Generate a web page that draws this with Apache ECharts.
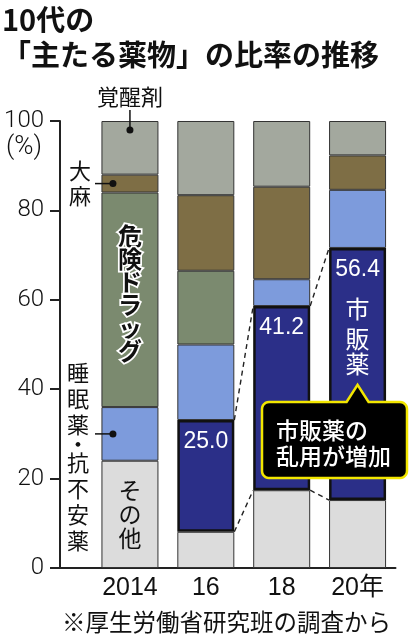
<!DOCTYPE html>
<html><head><meta charset="utf-8">
<script src="https://cdn.jsdelivr.net/npm/echarts@6/dist/echarts.min.js"></script>
<style>html,body{margin:0;padding:0;background:#fff;}#c{width:409px;height:640px;}</style>
</head><body><div id="c"></div>
<script>
const years = ['2014', '16', '18', '20年'];
const otherVals = [24, 8.1, 17.4, 15.2];
const otcVals = [null, 25.0, 41.2, 56.4];
const sleepVals = [12, 16.9, 6.0, 13.0];
const dangerVals = [48, 16.5, null, null];
const cannabisVals = [4, 16.9, 20.7, 7.7];
const stimVals = [12, 16.6, 14.7, 7.7];
const seriesNames = ['その他', '市販薬', '睡眠薬・抗不安薬', '危険ドラッグ', '大麻', '覚醒剤'];
const titleLines = ['10代の', '「主たる薬物」の比率の推移'];
const calloutLines = ['市販薬の', '乱用が増加'];
const sourceNote = '※厚生労働省研究班の調査から';
const yTicks = [0, 20, 40, 60, 80, 100];

const FONT = '"Noto Sans CJK JP", "Noto Sans", sans-serif';
const colors = {
  other: '#dcdcdc', otc: '#2b2f88', sleep: '#7d9bdc',
  danger: '#7b8a6f', cannabis: '#7e6e45', stim: '#a3a89e'
};
const chart = echarts.init(document.getElementById('c'), null, {renderer: 'canvas'});

function seg(name, vals, color, opts) {
  return Object.assign({
    name: name, type: 'bar', stack: 'all', barWidth: 57,
    data: vals.map(v => v),
    itemStyle: {color: color, borderColor: '#333', borderWidth: 1},
    emphasis: {disabled: true}, animation: false
  }, opts || {});
}

const otcData = otcVals.map((v, i) => {
  if (v == null) return null;
  const last = i === otcVals.length - 1;
  return {
    value: v,
    label: {
      show: true, position: 'insideTop', distance: 0,
      formatter: last ? '{n|' + v.toFixed(1) + '}\n{t1|市}\n{t|販}\n{t|薬}' : '{n|' + v.toFixed(1) + '}',
      rich: {
        n: {fontSize: 23, lineHeight: 44, color: '#fff', fontFamily: 'Liberation Sans, sans-serif', align: 'center'},
        t1: {fontSize: 24, lineHeight: 34, color: '#fff', fontFamily: FONT, align: 'center'},
        t: {fontSize: 24, lineHeight: 25, color: '#fff', fontFamily: FONT, align: 'center'}
      }
    }
  };
});

const dangerData = dangerVals.map((v, i) => i === 0 ? {
  value: v,
  label: {
    show: true, position: 'inside', offset: [0, -6],
    formatter: seriesNames[3].split('').join('\n'),
    fontFamily: FONT, fontSize: 24, fontWeight: 'bold', lineHeight: 23,
    color: '#111', textBorderColor: '#fff', textBorderWidth: 3.5
  }
} : v);

const otherData = otherVals.map((v, i) => i === 0 ? {
  value: v,
  label: {
    show: true, position: 'inside',
    formatter: seriesNames[0].split('').join('\n'),
    fontFamily: FONT, fontSize: 23, lineHeight: 24, color: '#111'
  }
} : v);

const option = {
  animation: false,
  grid: {left: 92, right: 13.5, top: 121, bottom: 72},
  xAxis: {
    type: 'category', data: years,
    axisLine: {lineStyle: {color: '#222', width: 2}},
    axisTick: {show: false},
    axisLabel: {color: '#111', fontSize: 25, margin: 8, fontFamily: 'Liberation Sans, ' + FONT}
  },
  yAxis: {
    type: 'value', min: 0, max: 100, interval: 20, offset: 32,
    axisLine: {show: true, lineStyle: {color: '#222', width: 2}},
    axisTick: {show: true, length: 10, lineStyle: {color: '#222', width: 2}},
    splitLine: {show: false},
    axisLabel: {color: '#111', fontSize: 24, margin: 16, fontFamily: 'Roboto, sans-serif', fontWeight: 300,
      formatter: v => yTicks.indexOf(v) >= 0 ? String(v) : ''}
  },
  series: [
    seg(seriesNames[0], otherVals, colors.other, {data: otherData}),
    seg(seriesNames[1], otcVals, colors.otc, {data: otcData, z: 3,
      itemStyle: {color: colors.otc, borderColor: '#111', borderWidth: 2.5}}),
    seg(seriesNames[2], sleepVals, colors.sleep),
    seg(seriesNames[3], dangerVals, colors.danger, {data: dangerData}),
    seg(seriesNames[4], cannabisVals, colors.cannabis),
    seg(seriesNames[5], stimVals, colors.stim)
  ]
};
chart.setOption(option);

// ---- annotations computed from scales ----
const P = (i, v) => chart.convertToPixel({gridIndex: 0}, [i, v]);
const half = 57 / 2;
const g = [];
const y0 = P(0, 0)[1];
const gridLeft = 92, yAxisX = 60;
g.push({type: 'line', shape: {x1: yAxisX, y1: y0, x2: gridLeft, y2: y0}, style: {stroke: '#222', lineWidth: 2}, z: 10});

// dashed connectors between 市販薬 segments
for (let i = 1; i < years.length - 1; i++) {
  const bA = otherVals[i], tA = bA + otcVals[i];
  const bB = otherVals[i + 1], tB = bB + otcVals[i + 1];
  const pa1 = P(i, tA), pb1 = P(i + 1, tB), pa0 = P(i, bA), pb0 = P(i + 1, bB);
  g.push({type: 'line', shape: {x1: pa1[0] + half, y1: pa1[1], x2: pb1[0] - half, y2: pb1[1]},
    style: {stroke: '#222', lineWidth: 1.4, lineDash: [5, 4]}, z: 10});
  g.push({type: 'line', shape: {x1: pa0[0] + half, y1: pa0[1], x2: pb0[0] - half, y2: pb0[1]},
    style: {stroke: '#222', lineWidth: 1.4, lineDash: [5, 4]}, z: 10});
}

// left-side category labels for 2014 bar
const dotStim = P(0, 100 - stimVals[0] / 6);
const dotCan = P(0, 100 - stimVals[0] - cannabisVals[0] / 2);
const dotSleep = P(0, otherVals[0] + sleepVals[0] / 2);
g.push({type: 'text', style: {text: seriesNames[5], x: dotStim[0], y: 97, align: 'center', verticalAlign: 'middle',
  font: '22px ' + FONT, fill: '#111'}, z: 10});
g.push({type: 'line', shape: {x1: dotStim[0], y1: 110, x2: dotStim[0], y2: dotStim[1]}, style: {stroke: '#111', lineWidth: 1.5}, z: 10});
g.push({type: 'circle', shape: {cx: dotStim[0], cy: dotStim[1], r: 3.5}, style: {fill: '#111'}, z: 10});

const canX = dotCan[0] - 17;
g.push({type: 'text', style: {text: seriesNames[4].split('').join('\n'), x: 80, y: dotCan[1], align: 'center', verticalAlign: 'middle',
  font: '22px ' + FONT, lineHeight: 25, fill: '#111'}, z: 10});
g.push({type: 'line', shape: {x1: 95, y1: dotCan[1], x2: canX, y2: dotCan[1]}, style: {stroke: '#111', lineWidth: 1.5}, z: 10});
g.push({type: 'circle', shape: {cx: canX, cy: dotCan[1], r: 3.5}, style: {fill: '#111'}, z: 10});

const sleepChars = seriesNames[2].split('');
const sleepRich = sleepChars.map(c => c === '・' ? '{d|・}' : '{c|' + c + '}').join('\n');
g.push({type: 'text', style: {text: sleepRich, x: 78, y: 360, align: 'center', verticalAlign: 'top',
  rich: {c: {fontSize: 22, lineHeight: 26, fontFamily: FONT, fill: '#111', align: 'center'},
         d: {fontSize: 22, lineHeight: 12, fontFamily: FONT, fill: '#111', align: 'center'}}}, z: 10});
g.push({type: 'line', shape: {x1: 95, y1: dotSleep[1], x2: canX, y2: dotSleep[1]}, style: {stroke: '#111', lineWidth: 1.5}, z: 10});
g.push({type: 'circle', shape: {cx: canX, cy: dotSleep[1], r: 3.5}, style: {fill: '#111'}, z: 10});

// (%) unit
g.push({type: 'text', style: {text: '(%)', x: 24, y: 147, align: 'center', verticalAlign: 'middle',
  font: '300 26px Roboto, sans-serif', fill: '#111'}, z: 10});

// title
g.push({type: 'text', style: {text: titleLines[0], x: 2, y: 20, verticalAlign: 'middle',
  font: 'bold 29px ' + FONT, fill: '#111'}, z: 10});
g.push({type: 'text', style: {text: titleLines[1], x: 2, y: 55, verticalAlign: 'middle',
  font: 'bold 29px ' + FONT, fill: '#111'}, z: 10});

// callout pointing to 2020 市販薬
const tip = P(3, 41);
const bx0 = 262, bx1 = 407, by0 = 402, by1 = 478, r = 7;
function arc(cx, cy, a0, a1) {
  const pts = [];
  for (let k = 0; k <= 6; k++) {
    const a = a0 + (a1 - a0) * k / 6;
    pts.push([cx + r * Math.cos(a), cy + r * Math.sin(a)]);
  }
  return pts;
}
const PI = Math.PI;
const poly = [].concat(
  [[tip[0] - 11, by0], [tip[0], tip[1]], [tip[0] + 11, by0]],
  arc(bx1 - r, by0 + r, -PI / 2, 0),
  arc(bx1 - r, by1 - r, 0, PI / 2),
  arc(bx0 + r, by1 - r, PI / 2, PI),
  arc(bx0 + r, by0 + r, PI, 1.5 * PI)
);
g.push({type: 'polygon', shape: {points: poly}, style: {fill: '#000', stroke: '#f2e600', lineWidth: 2.5, lineJoin: 'miter'}, z: 20});
g.push({type: 'text', style: {text: calloutLines[0], x: 276, y: 430, verticalAlign: 'middle',
  font: '500 23px ' + FONT, fill: '#fff'}, z: 21});
g.push({type: 'text', style: {text: calloutLines[1], x: 276, y: 456, verticalAlign: 'middle',
  font: '500 23px ' + FONT, fill: '#fff'}, z: 21});

// source note
g.push({type: 'text', style: {text: sourceNote, x: 62, y: 622, verticalAlign: 'middle',
  font: '23.5px ' + FONT, fill: '#111'}, z: 10});

chart.setOption({graphic: g});
</script></body></html>
